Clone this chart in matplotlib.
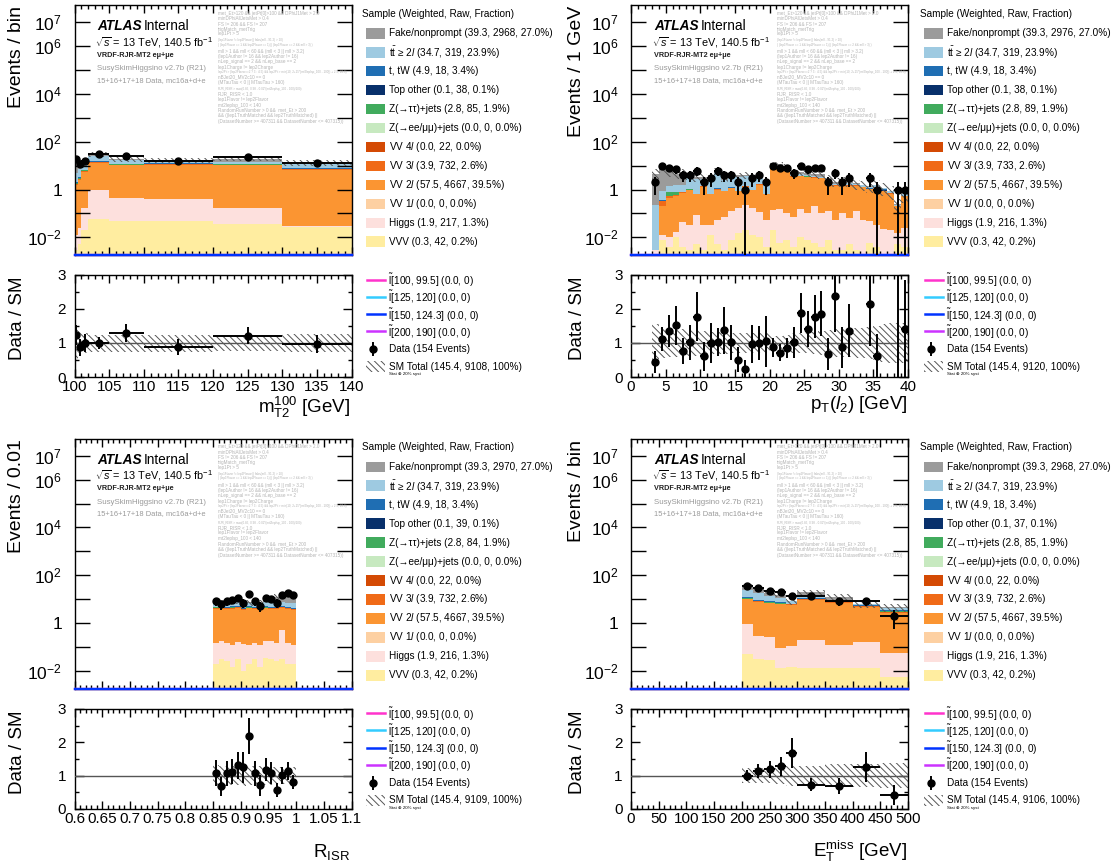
import numpy as np
import matplotlib
matplotlib.use("Agg")
import matplotlib.pyplot as plt
from matplotlib.patches import Rectangle
from matplotlib.ticker import FixedLocator, MultipleLocator, FuncFormatter, NullLocator

plt.rcParams["font.family"] = ["Liberation Sans", "DejaVu Sans"]
plt.rcParams["mathtext.fontset"] = "custom"
plt.rcParams["mathtext.rm"] = "Liberation Sans"
plt.rcParams["mathtext.it"] = "Liberation Sans:italic"
plt.rcParams["mathtext.bf"] = "Liberation Sans:bold"
plt.rcParams["hatch.linewidth"] = 0.7

# ---------------------------------------------------------------- samples
sample_labels = ["Fake/nonprompt", r"$\mathrm{t}\bar{\mathrm{t}}$ ≥ 2$l$", "t, tW", "Top other",
                 "Z(→ττ)+jets", "Z(→ee/μμ)+jets", r"VV 4$l$", r"VV 3$l$", r"VV 2$l$",
                 r"VV 1$l$", "Higgs", "VVV"]
sample_colors = ["#9b9b9b", "#9ecae1", "#1f6eb3", "#08306b", "#41ab5d", "#c7e9c0",
                 "#d44a04", "#f06a17", "#fb9532", "#fdd0a2", "#fde0dd", "#ffeda0"]
sample_weighted = [39.3, 34.7, 4.9, 0.1, 2.8, 0.0, 0.0, 3.9, 57.5, 0.0, 1.9, 0.3]
sample_fraction = [27.0, 23.9, 3.4, 0.1, 1.9, 0.0, 0.0, 2.6, 39.5, 0.0, 1.3, 0.2]

raw_mt2 = [2968, 319, 18, 38, 85, 0, 22, 732, 4667, 0, 217, 42]
raw_pt = [2976, 319, 18, 38, 89, 0, 22, 733, 4667, 0, 216, 42]
raw_risr = [2970, 319, 18, 39, 84, 0, 22, 732, 4667, 0, 216, 42]
raw_met = [2968, 319, 18, 37, 85, 0, 22, 732, 4667, 0, 216, 42]

# stacking order, bottom to top (indices into the sample lists)
stack_order = [11, 10, 8, 7, 4, 3, 2, 1, 0]

signal_masses = [(100, 99.5), (125, 120), (150, 124.3), (200, 190)]
signal_colors = ["#ff33cc", "#33ccff", "#0033ff", "#cc33ff"]
signal_weighted = [0.0, 0.0, 0.0, 0.0]
signal_raw = [0, 0, 0, 0]
signal_draw_order = [0, 1, 3, 2]

# ---------------------------------------------------------------- mT2(100)
mt2_edges = [100, 100.5, 101, 102, 105, 110, 120, 130, 140]
mt2_data = [19, 12, 15, 31, 25, 15, 24, 13]
mt2_vvv = [0.003, 0.005, 0.02, 0.06, 0.05, 0.05, 0.035, 0.028]
mt2_higgs = [0.01, 0.02, 0.15, 0.9, 0.38, 0.35, 0.13, 0.002]
mt2_vv2l = [1.5, 2.5, 5.5, 12.5, 10.0, 10.5, 10.0, 6.5]
mt2_vv3l = [0.2, 0.3, 0.4, 0.6, 0.7, 0.7, 0.6, 0.4]
mt2_ztt = [0.1, 0.2, 0.3, 0.3, 0.4, 0.4, 0.4, 0.3]
mt2_topother = [0, 0, 0, 0, 0, 0, 0.05, 0.05]
mt2_tw = [0.3, 0.4, 0.4, 0.7, 0.6, 0.6, 1.0, 0.5]
mt2_ttbar = [3.0, 3.5, 4.5, 9.5, 5.5, 3.0, 2.5, 4.4]
mt2_fake = [10.3, 6.9, 3.7, 6.4, 1.6, 1.4, 5.1, 1.3]
mt2_unc = [0.5, 0.35, 0.3, 0.25, 0.25, 0.25, 0.24, 0.27]

# ---------------------------------------------------------------- pT(l2)
pt_edges = list(range(3, 41))
pt_data = [2, 10, 8, 7, 4, 4, 6, 2, 3, 6, 4, 4, 2, 1, 3, 4, 2, 10, 8, 8, 5, 10, 7, 8, 8,
           2, 5, 2, 3, 0, 0, 3, 1, 0, 0, 1, 1]
pt_vvv = [0.002, 0.008, 0.004, 0.01, 0.004, 0.003, 0.005, 0.003, 0.012, 0.005, 0.003, 0.008,
          0.015, 0.02, 0.012, 0.01, 0.004, 0.02, 0.006, 0.008, 0.004, 0.01, 0.008, 0.006,
          0.004, 0.008, 0.003, 0.003, 0.005, 0.003, 0.002, 0.006, 0.004, 0.002, 0.001, 0.005, 0.004]
pt_higgs = [0.001, 0.004, 0.006, 0.006, 0.04, 0.03, 0.08, 0.03, 0.02, 0.05, 0.07, 0.12, 0.15,
            0.2, 0.15, 0.1, 0.05, 0.12, 0.15, 0.1, 0.07, 0.15, 0.1, 0.2, 0.1, 0.12, 0.05, 0.1,
            0.06, 0.12, 0.05, 0.04, 0.03, 0.02, 0.02, 0.01, 0.02]
pt_vv2l = [0.0, 0.19, 0.45, 0.5, 0.7, 0.9, 0.55, 1.3, 0.6, 0.9, 0.8, 1.0, 0.7, 1.1, 0.8, 1.5,
           0.6, 8.0, 7.6, 6.8, 3.3, 3.4, 3.2, 2.9, 2.8, 2.0, 1.4, 1.5, 1.4, 1.3, 1.2, 1.0, 1.1,
           0.85, 0.65, 0.18, 0.5]
pt_vv3l = [0.0, 0.12, 0.1, 0.08, 0.06, 0.05, 0.03, 0.04, 0.03, 0.05, 0.03, 0.05, 0.04, 0.05,
           0.03, 0.05, 0.02, 0.3, 0.3, 0.25, 0.15, 0.15, 0.15, 0.12, 0.1, 0.08, 0.06, 0.06,
           0.05, 0.05, 0.04, 0.04, 0.04, 0.03, 0.02, 0.01, 0.02]
pt_ztt = [0, 0, 0.25, 0.2, 0, 0.05, 0, 0, 0, 0.05, 0, 0, 0, 0, 0, 0, 0, 0.1, 0.15, 0.1, 0,
          0.05, 0.05, 0, 0, 0, 0, 0.05, 0, 0, 0, 0, 0, 0, 0, 0, 0]
pt_topother = [0] * 32 + [0.02, 0.03, 0, 0, 0]
pt_tw = [0, 0.05, 0, 0, 0, 0.05, 0, 0, 0, 0.1, 0, 0.1, 0, 0, 0, 0.1, 0, 0.1, 0.1, 0.05, 0.05,
         0.05, 0.05, 0, 0.05, 0, 0, 0, 0.05, 0, 0, 0.05, 0.1, 0.1, 0, 0, 0]
pt_ttbar = [0.22, 0.5, 0.6, 0.7, 0.8, 2.0, 2.2, 1.5, 1.9, 3.8, 1.6, 2.2, 2.5, 2.2, 1.6, 1.8,
            0.9, 1.2, 1.3, 0.8, 0.5, 0.6, 0.5, 0.5, 0.4, 0.3, 0.25, 0.25, 0.3, 0.2, 0.2, 0.18,
            0.2, 0.1, 0.15, 0.03, 0.1]
pt_fake = [4.28, 8.13, 4.49, 3.1, 3.6, 0.82, 0.53, 0.43, 0.44, 0.85, 0.4, 0.42, 0.5, 0.43,
           0.5, 0.44, 0.33, 1.66, 1.7, 1.39, 0.83, 0.89, 0.94, 0.77, 0.85, 0.49, 0.34, 0.34,
           0.34, 0.13, 0.11, 0.08, 0.1, 0.07, 0.06, 0.015, 0.06]
pt_unc = [0.55, 0.45, 0.42, 0.4, 0.4, 0.38, 0.37, 0.35, 0.33, 0.32, 0.32, 0.3, 0.3, 0.3, 0.3,
          0.3, 0.3, 0.22, 0.22, 0.25, 0.28, 0.3, 0.3, 0.32, 0.35, 0.38, 0.4, 0.42, 0.42, 0.45,
          0.45, 0.48, 0.5, 0.55, 0.58, 0.6, 0.6]

# ---------------------------------------------------------------- R_ISR
risr_edges = [0.85, 0.86, 0.87, 0.88, 0.89, 0.90, 0.91, 0.92, 0.93, 0.94, 0.95, 0.96, 0.97,
              0.98, 0.99, 1.00]
risr_data = [8, 6, 8, 9, 11, 7, 16, 8, 5, 11, 10, 7, 15, 18, 15]
risr_vvv = [0.02, 0.03, 0.025, 0.015, 0.03, 0.01, 0.02, 0.03, 0.015, 0.035, 0.03, 0.025, 0.03,
            0.02, 0.02]
risr_higgs = [0.12, 0.15, 0.12, 0.1, 0.13, 0.12, 0.1, 0.12, 0.1, 0.15, 0.15, 0.12, 0.5, 0.13, 0.1]
risr_vv2l = [3.9, 3.9, 3.7, 3.9, 4.0, 3.4, 4.0, 3.8, 3.6, 3.9, 3.8, 3.7, 3.8, 3.7, 3.5]
risr_vv3l = [0.25, 0.3, 0.25, 0.25, 0.3, 0.2, 0.25, 0.25, 0.25, 0.3, 0.25, 0.25, 0.3, 0.25, 0.25]
risr_ztt = [0.2, 0.2, 0.2, 0.25, 0.2, 0.15, 0.2, 0.2, 0.15, 0.2, 0.2, 0.15, 0.2, 0.15, 0.1]
risr_topother = [0, 0.01, 0, 0, 0.01, 0, 0, 0.01, 0, 0.01, 0, 0, 0.01, 0, 0]
risr_tw = [0.3, 0.4, 0.35, 0.4, 0.4, 0.2, 0.35, 0.3, 0.3, 0.35, 0.35, 0.3, 0.35, 0.3, 0.3]
risr_ttbar = [2.3, 3.1, 2.5, 2.7, 2.9, 1.2, 2.0, 2.4, 2.1, 2.8, 2.6, 2.4, 2.3, 2.4, 2.4]
risr_fake = [0.31, 0.71, 0.355, 0.385, 0.43, 0.32, 0.38, 0.39, 0.485, 1.555, 1.92, 5.555,
             7.41, 8.85, 11.83]
risr_unc = [0.32, 0.3, 0.3, 0.28, 0.28, 0.3, 0.28, 0.28, 0.3, 0.27, 0.27, 0.25, 0.25, 0.25, 0.25]

# ---------------------------------------------------------------- ETmiss
met_edges = [200, 220, 240, 260, 280, 300, 350, 400, 450, 500]
met_data = [36, 30, 22, 20, 14, 14, 8, 8, 2]
met_vvv = [0.05, 0.032, 0.027, 0.0135, 0.014, 0.0135, 0.0135, 0.0135, 0.0055]
met_higgs = [0.88, 0.26, 0.23, 0.08, 0.1, 0.18, 0.11, 0.15, 0.05]
met_vv2l = [8.9, 7.6, 6.4, 6.0, 5.5, 8.9, 6.9, 4.7, 2.6]
met_vv3l = [0.6, 0.5, 0.45, 0.45, 0.4, 0.6, 0.4, 0.3, 0.2]
met_ztt = [0.4, 0.3, 0.3, 0.3, 0.2, 0.4, 0.3, 0.2, 0.4]
met_topother = [0.02, 0, 0, 0, 0, 0, 0, 0, 0]
met_tw = [1.0, 0.8, 0.6, 0.6, 0.3, 0.6, 0.4, 0.2, 0.2]
met_ttbar = [11.5, 8.0, 5.5, 3.5, 1.5, 3.5, 1.5, 0.5, 0.6]
met_fake = [12.65, 9.0, 4.99, 4.65, 0.29, 5.0, 2.18, 0.24, 0.64]
met_unc = [0.22, 0.22, 0.23, 0.25, 0.3, 0.3, 0.35, 0.35, 0.37]

# selection printed on each plot
cut_lines = [
    "met_Et>120 && jetPt[0]>100 && DPhiJ1Met > 2.0",
    "minDPhiAllJetsMet > 0.4",
    "FS != 206 && FS != 207",
    "trigMatch_metTrig",
    "lep1Pt > 5",
    "(lep1Flavor != lep2Flavor || fabs(mll - 91.2) > 10)",
    "( (lep1Flavor == 1 && lep2Flavor == 1) || (lep1Flavor == 2 && mll > 3) )",
    "mll > 1 && mll < 60 && (mll < 3 || mll > 3.2)",
    "(lep1Author != 16 && lep2Author != 16)",
    "nLep_signal == 2 && nLep_base == 2",
    "lep1Charge != lep2Charge",
    "lep2Pt > (lep2Flavor==2 ? 3 : 4.5) && lep2Pt > min(10, 2+15*(mt2leplsp_100 - 100)) + 2.5, 20.0)",
    "nBJet20_MV2c10 == 0",
    "(MTauTau < 0 || MTauTau > 160)",
    "RJR_RISR > max(0.85, 0.98 - 0.02*(mt2leplsp_100 - 100)/100)",
    "RJR_RISR < 1.0",
    "lep1Flavor != lep2Flavor",
    "mt2leplsp_100 < 140",
    "RandomRunNumber > 0 &&  met_Et > 200",
    "&& ((lep1TruthMatched && lep2TruthMatched) ||",
    "(DatasetNumber >= 407311 && DatasetNumber <= 407315))",
]
cut_small = {5, 6, 11, 14}
cut_y = [13.3, 19, 24.3, 29, 34, 40, 45, 51.7, 56.7, 61.7, 67.7, 72.3, 77.3, 82.7, 89.3,
         94.3, 99.3, 105, 110, 116, 121.7]

# ---------------------------------------------------------------- figure
W, H = 1117, 867
fig = plt.figure(figsize=(W / 100, H / 100), dpi=100)
YMIN, YMAX = 10 ** -2.74, 10 ** 7.72
HATCH = "\\" * 5


def box(x0, y0, x1, y1):
    return [x0 / W, 1 - y1 / H, (x1 - x0) / W, (y1 - y0) / H]


def log_label(v, pos):
    k = int(round(np.log10(v)))
    if k not in (-2, 0, 2, 4, 6, 7):
        return ""
    return "1" if k == 0 else rf"$10^{{{k}}}$"


def draw_panel(main_box, ratio_box, edges, data, layers, unc, xlim, xmaj, xmin):
    edges = np.asarray(edges, float)
    data = np.asarray(data, float)
    unc = np.asarray(unc, float)
    centers = 0.5 * (edges[1:] + edges[:-1])
    halfw = 0.5 * np.diff(edges)

    ax = fig.add_axes(box(*main_box))
    axr = fig.add_axes(box(*ratio_box))

    ax.set_yscale("log")
    ax.set_xlim(*xlim)
    ax.set_ylim(YMIN, YMAX)

    base = np.full(len(data), YMIN * 1e-2)
    for vals, idx in zip(layers, stack_order):
        top = base + np.asarray(vals, float)
        ax.stairs(top, edges, baseline=base, fill=True, facecolor=sample_colors[idx],
                  edgecolor="none", lw=0)
        base = top
    total = base

    ax.stairs(total * (1 + unc), edges, baseline=total * (1 - unc), fill=True,
              facecolor="none", edgecolor="#555555", hatch=HATCH, lw=0, zorder=3)

    # empty signal histograms sit on the lower frame
    for k in signal_draw_order:
        ax.axhline(max(signal_weighted[k], YMIN), color=signal_colors[k], lw=1.6,
                   clip_on=False, zorder=4)

    m = data > 0
    ax.errorbar(centers[m], data[m], yerr=np.sqrt(data[m]), xerr=halfw[m], fmt="o",
                color="black", ms=5, elinewidth=1.4, capsize=0, zorder=6)

    ratio = data / total
    ratio_err = np.sqrt(data) / total
    axr.stairs(1 + unc, edges, baseline=1 - unc, fill=True, facecolor="none",
               edgecolor="#555555", hatch=HATCH, lw=0, zorder=2)
    axr.axhline(1, color="#555555", lw=1.0, zorder=3)
    axr.errorbar(centers[m], ratio[m], yerr=ratio_err[m], xerr=halfw[m], fmt="o",
                 color="black", ms=5, elinewidth=1.4, capsize=0, zorder=6)
    axr.set_xlim(*xlim)
    axr.set_ylim(0, 3)

    for a in (ax, axr):
        a.tick_params(which="both", direction="in", top=True, right=True, width=1)
        a.xaxis.set_major_locator(MultipleLocator(xmaj))
        a.xaxis.set_minor_locator(MultipleLocator(xmin))
        a.tick_params(axis="x", which="major", length=6)
        a.tick_params(axis="x", which="minor", length=3)
        for s in a.spines.values():
            s.set_linewidth(1.0)
    ax.tick_params(axis="x", labelbottom=False)
    ax.yaxis.set_major_locator(FixedLocator([10.0 ** k for k in range(-2, 8)]))
    ax.yaxis.set_minor_locator(NullLocator())
    ax.yaxis.set_major_formatter(FuncFormatter(log_label))
    ax.tick_params(axis="y", which="major", length=10.5, labelsize=12.5, pad=9)

    axr.yaxis.set_major_locator(FixedLocator([0, 1, 2, 3]))
    axr.yaxis.set_minor_locator(MultipleLocator(0.5))
    axr.yaxis.set_major_formatter(FuncFormatter(lambda v, p: f"{v:g}"))
    axr.xaxis.set_major_formatter(FuncFormatter(lambda v, p: f"{v:g}"))
    axr.tick_params(axis="y", which="major", length=6.5, labelsize=11, pad=6)
    axr.tick_params(axis="y", which="minor", length=3.2)
    axr.tick_params(axis="x", labelsize=11, pad=2.5)
    return ax, axr


# overlay in pixel coordinates for labels and legends
def make_overlay():
    ov = fig.add_axes([0, 0, 1, 1])
    ov.set_xlim(0, W)
    ov.set_ylim(H, 0)
    ov.axis("off")
    return ov


def draw_texts(ov, ax_x, yoff, cut_x):
    ov.text(ax_x, yoff + 30.5, "ATLAS", fontsize=9.8, fontweight="bold", fontstyle="italic",
            ha="left", va="baseline")
    ov.text(ax_x + 47, yoff + 30.5, "Internal", fontsize=9.8, ha="left", va="baseline")
    ov.text(ax_x - 2, yoff + 46, r"$\sqrt{s}$ = 13 TeV, 140.5 fb$^{-1}$", fontsize=7.8,
            ha="left", va="baseline")
    ov.text(ax_x, yoff + 57, "VRDF-RJR-MT2 eμ+μe", fontsize=5.2, fontweight="bold",
            color="#222222", ha="left", va="baseline")
    ov.text(ax_x, yoff + 70, "SusySkimHiggsino v2.7b (R21)", fontsize=5.7, color="#9a9a9a",
            ha="left", va="baseline")
    ov.text(ax_x, yoff + 82, "15+16+17+18 Data, mc16a+d+e", fontsize=5.4, color="#9a9a9a",
            ha="left", va="baseline")
    for i, (line, y) in enumerate(zip(cut_lines, cut_y)):
        fs = 2.2 if i in cut_small else 3.3
        ov.text(cut_x, yoff + y, line, fontsize=fs, color="#b4b4b4", ha="left", va="center")


def draw_legend(ov, x0, yoff, raw, data):
    fs = 7.2
    ov.text(x0, yoff + 14, "Sample (Weighted, Raw, Fraction)", fontsize=fs, ha="left",
            va="center")
    for i in range(len(sample_labels)):
        yc = yoff + 33.3 + i * 18.95
        ov.add_patch(Rectangle((x0 + 4, yc - 5.3), 18.5, 10.6, facecolor=sample_colors[i],
                               edgecolor="none"))
        ov.text(x0 + 27, yc, f"{sample_labels[i]} ({sample_weighted[i]:.1f}, {raw[i]}, "
                f"{sample_fraction[i]:.1f}%)", fontsize=fs, ha="left", va="center")
    for j, ((m1, m2), col) in enumerate(zip(signal_masses, signal_colors)):
        yc = yoff + 279.5 + j * 17.3
        ov.plot([x0 + 4.5, x0 + 23], [yc, yc], color=col, lw=1.8)
        ov.text(x0 + 25.5, yc, r"$\tilde{\mathrm{l}}$" +
                f"[{m1:g}, {m2:g}] ({signal_weighted[j]:.1f}, {signal_raw[j]})",
                fontsize=fs, ha="left", va="center")
    yc = yoff + 349.3
    ov.plot([x0 + 11, x0 + 11], [yc - 6, yc + 6], color="black", lw=1.4)
    ov.plot([x0 + 11], [yc], "o", color="black", ms=5)
    ov.text(x0 + 27, yc, f"Data ({int(np.sum(data))} Events)", fontsize=fs, ha="left",
            va="center")
    yc = yoff + 366.5
    ov.add_patch(Rectangle((x0 + 4, yc - 5.5), 19, 11, facecolor="none", edgecolor="#555555",
                           hatch=HATCH, lw=0))
    ov.text(x0 + 27, yc, f"SM Total ({sum(sample_weighted):.1f}, {sum(raw)}, 100%)",
            fontsize=fs, ha="left", va="center")
    ov.text(x0 + 27, yoff + 374.5, "Stat ⊕ 20% syst", fontsize=3.2, ha="left", va="center")


panels = [
    dict(main=(74.5, 5, 351.5, 255), ratio=(74.5, 275, 351.5, 377), edges=mt2_edges,
         data=mt2_data,
         layers=[mt2_vvv, mt2_higgs, mt2_vv2l, mt2_vv3l, mt2_ztt, mt2_topother, mt2_tw,
                 mt2_ttbar, mt2_fake],
         unc=mt2_unc, xlim=(100, 140), xmaj=5, xmin=1, raw=raw_mt2,
         ylabel="Events / bin", xlabel=r"m$_{\mathrm{T2}}^{100}$ [GeV]",
         ylab_x=16.5, yoff=0, atlas_x=97, cut_x=218, leg_x=362, xlab_y=413),
    dict(main=(631, 5, 908, 255), ratio=(631, 275, 908, 377), edges=pt_edges, data=pt_data,
         layers=[pt_vvv, pt_higgs, pt_vv2l, pt_vv3l, pt_ztt, pt_topother, pt_tw, pt_ttbar,
                 pt_fake],
         unc=pt_unc, xlim=(0, 40), xmaj=5, xmin=1, raw=raw_pt,
         ylabel="Events / 1 GeV", xlabel=r"p$_{\mathrm{T}}$($l_{2}$) [GeV]",
         ylab_x=576.5, yoff=0, atlas_x=654, cut_x=777, leg_x=920, xlab_y=409),
    dict(main=(74.5, 438.5, 351.5, 688.5), ratio=(74.5, 709, 351.5, 809), edges=risr_edges,
         data=risr_data,
         layers=[risr_vvv, risr_higgs, risr_vv2l, risr_vv3l, risr_ztt, risr_topother, risr_tw,
                 risr_ttbar, risr_fake],
         unc=risr_unc, xlim=(0.6, 1.1), xmaj=0.05, xmin=0.01, raw=raw_risr,
         ylabel="Events / 0.01", xlabel=r"R$_{\mathrm{ISR}}$",
         ylab_x=16.5, yoff=433.5, atlas_x=97, cut_x=218, leg_x=362, xlab_y=857),
    dict(main=(631, 438.5, 908, 688.5), ratio=(631, 709, 908, 809), edges=met_edges,
         data=met_data,
         layers=[met_vvv, met_higgs, met_vv2l, met_vv3l, met_ztt, met_topother, met_tw,
                 met_ttbar, met_fake],
         unc=met_unc, xlim=(0, 500), xmaj=50, xmin=10, raw=raw_met,
         ylabel="Events / bin", xlabel=r"E$_{\mathrm{T}}^{\mathrm{miss}}$ [GeV]",
         ylab_x=576.5, yoff=433.5, atlas_x=654, cut_x=777, leg_x=920, xlab_y=857),
]

for p in panels:
    draw_panel(p["main"], p["ratio"], p["edges"], p["data"], p["layers"], p["unc"],
               p["xlim"], p["xmaj"], p["xmin"])

ov = make_overlay()
for p in panels:
    draw_texts(ov, p["atlas_x"], p["yoff"], p["cut_x"])
    draw_legend(ov, p["leg_x"], p["yoff"], p["raw"], p["data"])
    ov.text(p["ylab_x"], p["main"][1] + 1, p["ylabel"], rotation=90, fontsize=14,
            ha="center", va="top")
    ov.text(p["ylab_x"] + 1, p["ratio"][1] + 1, "Data / SM", rotation=90, fontsize=13.5,
            ha="center", va="top")
    ov.text(p["main"][2] - 1, p["xlab_y"], p["xlabel"], fontsize=13.5, ha="right",
            va="baseline")

fig.savefig("out.png", dpi=100)
